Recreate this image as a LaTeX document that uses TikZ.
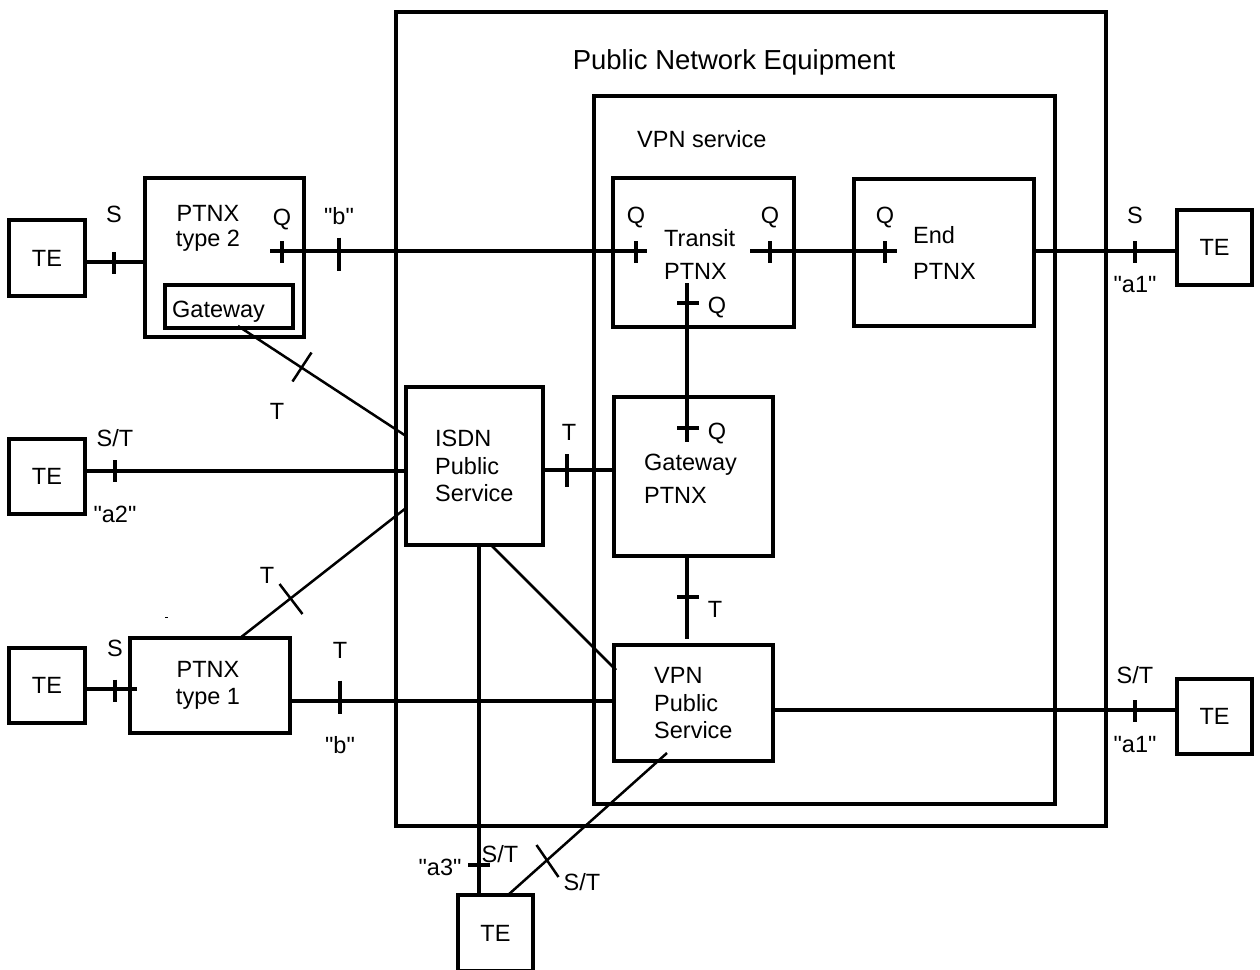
\documentclass[tikz,border=0pt]{standalone}
\usepackage{fontspec}
\setmainfont{Liberation Sans}[Ligatures=TeXOff]
\usetikzlibrary{calc}
\begin{document}
\begin{tikzpicture}[x=1pt,y=-1pt,
  font=\fontsize{23.5}{28}\selectfont,
  box/.style={draw,line width=3.1pt,inner sep=0pt,outer sep=0pt},
  conn/.style={line width=3.1pt},
  diag/.style={line width=2.5pt},
  lbl/.style={anchor=base,inner sep=0pt},
  txt/.style={anchor=base west,inner sep=0pt},
  vtick/.pic={\draw[line width=3.1pt] (0,-11) -- (0,11);},
  vtickl/.pic={\draw[line width=3.1pt] (0,-16.5) -- (0,16.5);},
  htick/.pic={\draw[line width=3.1pt] (-11,0) -- (11,0);}
]
\clip (0,0) rectangle (1260,969);
\fill[white] (0,0) rectangle (1260,969);

% enclosing areas
\node[box,minimum width=710pt,minimum height=814pt] (pne) at (751,419) {};
\node[box,minimum width=461pt,minimum height=708pt] (vpn) at (824.5,450) {};
\node[lbl,font=\fontsize{27.5}{32}\selectfont] (pnet) at (734,69) {Public Network Equipment};
\node[txt] (vpnt) at (637,147) {VPN service};

% equipment boxes
\node[box,minimum width=181pt,minimum height=149pt] (transit) at (703.5,252.5) {};
\node[txt] (transit1) at (664,246) {Transit};
\node[txt] (transit2) at (664,279) {PTNX};

\node[box,minimum width=180pt,minimum height=147pt] (endp) at (944,252.5) {};
\node[txt] (endp1) at (913,243) {End};
\node[txt] (endp2) at (913,279) {PTNX};

\node[box,minimum width=159pt,minimum height=159pt] (gwp) at (693.5,476.5) {};
\node[txt] (gwp1) at (644,470) {Gateway};
\node[txt] (gwp2) at (644,503) {PTNX};

\node[box,minimum width=137pt,minimum height=158pt] (isdn) at (474.5,466) {};
\node[txt] (isdn1) at (435,446) {ISDN};
\node[txt] (isdn2) at (435,474) {Public};
\node[txt] (isdn3) at (435,501) {Service};

\node[box,minimum width=159pt,minimum height=116pt] (vpnps) at (693.5,703) {};
\node[txt] (vpnps1) at (654,683) {VPN};
\node[txt] (vpnps2) at (654,711) {Public};
\node[txt] (vpnps3) at (654,738) {Service};

\node[box,minimum width=159pt,minimum height=159pt] (p2) at (224.5,257.5) {};
\node[lbl] (p2a) at (208,221) {PTNX};
\node[lbl] (p2b) at (208,246) {type 2};
\node[box,minimum width=128pt,minimum height=43pt] (gw2) at (229,306.5) {};
\node[txt] (gw2t) at (172,317) {Gateway};

\node[box,minimum width=160pt,minimum height=95pt] (p1) at (210,685.5) {};
\node[lbl] (p1a) at (208,677) {PTNX};
\node[lbl] (p1b) at (208,704) {type 1};

% terminals
\node[box,minimum width=76pt,minimum height=76pt] (te1) at (47,258) {TE};
\node[box,minimum width=76pt,minimum height=75pt] (te2) at (47,476.5) {TE};
\node[box,minimum width=76pt,minimum height=75pt] (te3) at (47,685.5) {TE};
\node[box,minimum width=75pt,minimum height=75pt] (te4) at (1214.5,247.5) {TE};
\node[box,minimum width=75pt,minimum height=75pt] (te5) at (1214.5,716.5) {TE};
\node[box,minimum width=75pt,minimum height=76pt] (te6) at (495.5,933) {TE};

% connections
\draw[conn] ($(te1.east)+(0,4)$) -- ($(p2.west)+(0,4.5)$);
\draw[conn] ($(p2.center)+(45.5,-6.5)$) -- ($(transit.center)+(-56.5,-1.5)$);
\draw[conn] ($(transit.center)+(46.5,-1.5)$) -- ($(endp.center)+(-47,-1.5)$);
\draw[conn] ($(endp.east)+(0,-1.5)$) -- ($(te4.west)+(0,3.5)$);
\draw[conn] ($(transit.center)+(-16.5,30.5)$) -- ($(gwp.center)+(-6.5,-34.5)$);
\draw[conn] ($(gwp.south)+(-6.5,0)$) -- ($(vpnps.north)+(-6.5,-6)$);
\draw[conn] ($(isdn.east)+(0,4)$) -- ($(gwp.west)+(0,-6.5)$);
\draw[conn] ($(te2.east)+(0,-5.5)$) -- ($(isdn.west)+(0,5)$);
\draw[diag] ($(gw2.south)+(9,-2)$) -- ($(isdn.west)+(0,-30)$);
\draw[diag] ($(p1.north)+(30,0)$) -- ($(isdn.west)+(0,42)$);
\draw[conn] ($(te3.east)+(0,3.5)$) -- ($(p1.west)+(7,3.5)$);
\draw[conn] ($(p1.east)+(0,15.5)$) -- ($(vpnps.west)+(0,-2)$);
\draw[diag] ($(isdn.south)+(16.5,0)$) -- ($(vpnps.west)+(2,-33)$);
\draw[conn] ($(isdn.south)+(4.5,0)$) -- ($(te6.north)+(-16.5,0)$);
\draw[diag] ($(vpnps.center)+(-26.5,50)$) -- ($(te6.north)+(12.5,0)$);
\draw[conn] ($(vpnps.east)+(0,7)$) -- ($(te5.west)+(0,-6.5)$);

% reference point marks
\pic at (114,263) {vtick};
\pic at (282,252) {vtick};
\pic at (339,254) {vtickl};
\pic at (636,252) {vtick};
\pic at (770,252) {vtick};
\pic at (885,252) {vtick};
\pic at (1135,252) {vtick};
\pic at (688,303) {htick};
\pic at (688,428) {htick};
\pic at (567,470.5) {vtickl};
\pic at (688,597) {htick};
\pic at (115,471) {vtick};
\pic at (115,690.5) {vtick};
\pic at (340,697) {vtickl};
\pic at (1135,711) {vtick};
\pic at (479,865) {htick};
\draw[diag] (311.5,352.5) -- (292.5,381.5);
\draw[diag] (279.5,584) -- (302.5,614);
\draw[diag] (536.5,845) -- (558.5,877);
\draw[line width=1pt] (165,617) -- (168,617);

% reference point labels
\node[lbl] (l1) at (114,222) {S};
\node[lbl] (l2) at (282,225) {Q};
\node[lbl] (l3) at (339,224) {"b"};
\node[lbl] (l4) at (636,223) {Q};
\node[lbl] (l5) at (770,223) {Q};
\node[lbl] (l6) at (885,223) {Q};
\node[lbl] (l7) at (717,313) {Q};
\node[lbl] (l8) at (1135,223) {S};
\node[lbl] (l9) at (1135,292) {"a1"};
\node[lbl] (l10) at (277,419) {T};
\node[lbl] (l11) at (717,439) {Q};
\node[lbl] (l12) at (569,440) {T};
\node[lbl] (l13) at (115,446) {S/T};
\node[lbl] (l14) at (115,522) {"a2"};
\node[lbl] (l15) at (267,583) {T};
\node[lbl] (l16) at (715,617) {T};
\node[lbl] (l17) at (115,656) {S};
\node[lbl] (l18) at (340,658) {T};
\node[lbl] (l19) at (340,753) {"b"};
\node[lbl] (l20) at (1135,683) {S/T};
\node[lbl] (l21) at (1135,752) {"a1"};
\node[lbl] (l22) at (500,862) {S/T};
\node[lbl] (l23) at (440,875) {"a3"};
\node[lbl] (l24) at (582,890) {S/T};
\end{tikzpicture}
\end{document}
